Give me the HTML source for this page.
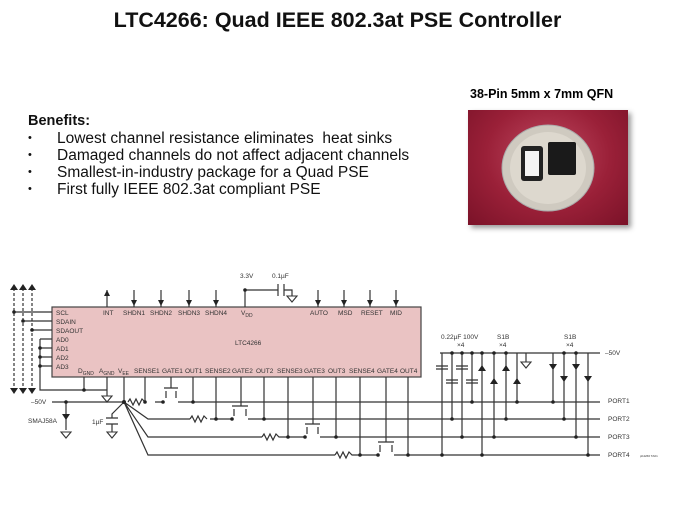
<!DOCTYPE html>
<html><head><meta charset="utf-8"><style>
body{margin:0;width:675px;height:506px;background:#fff;overflow:hidden;position:relative;font-family:"Liberation Sans",sans-serif}
.t{position:absolute;left:0;width:675px;top:8px;text-align:center;font-weight:bold;font-size:21.5px;color:#111}
.b{position:absolute;left:28px;top:112px;font-size:15.5px;line-height:17px;color:#111}
.b div{position:relative;padding-left:29px;white-space:nowrap}
.b div:before{content:"•";position:absolute;left:0;font-size:11px}
.cap{position:absolute;left:470px;top:87px;font-weight:bold;font-size:12.5px}
.ph{position:absolute;left:468px;top:110px;width:160px;height:115px;background:radial-gradient(ellipse at 50% 40%,#c04a62 0%,#9a2038 55%,#7a1228 100%);box-shadow:3px 3px 5px #999}
</style></head><body>
<div class="t">LTC4266: Quad IEEE 802.3at PSE Controller</div>
<div class="b"><b style="font-size:14.5px">Benefits:</b>
<div>Lowest channel resistance eliminates&nbsp; heat sinks</div>
<div>Damaged channels do not affect adjacent channels</div>
<div>Smallest-in-industry package for a Quad PSE</div>
<div>First fully IEEE 802.3at compliant PSE</div></div>
<div class="cap">38-Pin 5mm x 7mm QFN</div>
<div class="ph">
<svg width="160" height="115"><ellipse cx="80" cy="58" rx="46" ry="43" fill="#cfcac0" stroke="#aaa"/><ellipse cx="80" cy="58" rx="38" ry="36" fill="#ddd8ce"/>
<rect x="53" y="36" width="22" height="35" rx="3" fill="#222"/><rect x="57" y="41" width="14" height="25" fill="#f4f4f4"/>
<rect x="80" y="32" width="28" height="33" rx="2" fill="#1a1a1a"/></svg></div>
<svg style="position:absolute;left:0;top:0" width="675" height="506" font-family="Liberation Sans,sans-serif" font-size="6.5" fill="#333">
<g stroke="#333" stroke-width="1.2" fill="none">
<rect x="52" y="307" width="369" height="70" fill="#eac3c3" stroke="#444"/>
<path d="M14 288V390M23 288V390M32 288V390" stroke-dasharray="3,2"/>
<path d="M14 312H52M23 321H52M32 330H52M40 339H52M40 348H52M40 357H52M40 366H52M40 339V390H107"/>
<path d="M84 377V390M107 377V396"/>
<path d="M107 290V307M134 290V307M161 290V307M189 290V307M216 290V307M245 290V307M318 290V307M344 290V307M370 290V307M396 290V307"/>
<path d="M245 290H278M284 290H292V296"/>
<path d="M278 284V296M284 284V296"/>
<path d="M124 377V402M145 377V402M171 377V388M193 377V402M216 377V419M241 377V406M264 377V419M288 377V437M313 377V424M336 377V437M360 377V455M386 377V442M408 377V455"/>
<path d="M52 402H124M155 402H163M178 402H600"/>
<path d="M124 402L148 419H190M124 402L148 437H262M124 402L148 455H335"/>
<path d="M124 402L112 414V418"/>
<path d="M210 419H232M248 419H600M298 437H305M320 437H600M370 455H378M394 455H600"/>
<path d="M66 402V430M112 424V432"/>
<path d="M440 353H600"/>
<path d="M442 353V455M452 353V419M462 353V437M472 353V402"/>
<path d="M436 366H448M436 369H448M446 380H458M446 383H458M456 366H468M456 369H468M466 380H478M466 383H478"/>
<path d="M106 418H118M106 424H118"/>
<path d="M482 353V455M494 353V437M506 353V419M517 353V402"/>
<path d="M553 353V402M564 353V419M576 353V437M588 353V455"/>
<path d="M526 353V362"/>
<path d="M164 388H178M232 406H248M305 424H320M378 442H394M166 391V398M176 391V398M234 409V416M246 409V416M307 427V434M318 427V434M380 445V452M392 445V452"/>
<path d="M128 402l2-3 3 6 3-6 3 6 3-6 3 3M190 419l2-3 3 6 3-6 3 6 3-6 3 3M262 437l2-3 3 6 3-6 3 6 3-6 3 3H298M335 455l2-3 3 6 3-6 3 6 3-6 3 3H370"/>
</g>
<g fill="#222">
<path d="M10 290l4-6 4 6zM19 290l4-6 4 6zM28 290l4-6 4 6zM10 388l4 6 4-6zM19 388l4 6 4-6zM28 388l4 6 4-6z"/>
<path d="M104 296l3-6 3 6zM131 300l3 6 3-6zM158 300l3 6 3-6zM186 300l3 6 3-6zM213 300l3 6 3-6zM315 300l3 6 3-6zM341 300l3 6 3-6zM367 300l3 6 3-6zM393 300l3 6 3-6z"/>
<path d="M62 414h8l-4 6z"/>
<path d="M478 371h8l-4-6zM490 384h8l-4-6zM502 371h8l-4-6zM513 384h8l-4-6z"/>
<path d="M549 364h8l-4 6zM560 376h8l-4 6zM572 364h8l-4 6zM584 376h8l-4 6z"/>
<circle cx="14" cy="312" r="1.8"/><circle cx="23" cy="321" r="1.8"/><circle cx="32" cy="330" r="1.8"/><circle cx="40" cy="348" r="1.8"/><circle cx="40" cy="357" r="1.8"/><circle cx="40" cy="366" r="1.8"/><circle cx="84" cy="390" r="1.8"/><circle cx="245" cy="290" r="1.8"/><circle cx="66" cy="402" r="1.8"/><circle cx="124" cy="402" r="2"/><circle cx="145" cy="402" r="1.8"/><circle cx="163" cy="402" r="1.8"/><circle cx="193" cy="402" r="1.8"/><circle cx="216" cy="419" r="1.8"/><circle cx="232" cy="419" r="1.8"/><circle cx="264" cy="419" r="1.8"/><circle cx="288" cy="437" r="1.8"/><circle cx="305" cy="437" r="1.8"/><circle cx="336" cy="437" r="1.8"/><circle cx="360" cy="455" r="1.8"/><circle cx="378" cy="455" r="1.8"/><circle cx="408" cy="455" r="1.8"/>
<circle cx="442" cy="455" r="1.8"/><circle cx="452" cy="419" r="1.8"/><circle cx="462" cy="437" r="1.8"/><circle cx="472" cy="402" r="1.8"/><circle cx="482" cy="455" r="1.8"/><circle cx="494" cy="437" r="1.8"/><circle cx="506" cy="419" r="1.8"/><circle cx="517" cy="402" r="1.8"/><circle cx="553" cy="402" r="1.8"/><circle cx="564" cy="419" r="1.8"/><circle cx="576" cy="437" r="1.8"/><circle cx="588" cy="455" r="1.8"/>
<circle cx="452" cy="353" r="1.8"/><circle cx="462" cy="353" r="1.8"/><circle cx="472" cy="353" r="1.8"/><circle cx="482" cy="353" r="1.8"/><circle cx="494" cy="353" r="1.8"/><circle cx="506" cy="353" r="1.8"/><circle cx="564" cy="353" r="1.8"/><circle cx="576" cy="353" r="1.8"/>
</g>
<g stroke="#333" fill="#fff" stroke-width="1.1"><path d="M102 396h10l-5 6zM287 296h10l-5 6zM61 432h10l-5 6zM107 432h10l-5 6zM521 362h10l-5 6z"/></g>
<text x="56" y="315">SCL</text><text x="56" y="324">SDAIN</text><text x="56" y="333">SDAOUT</text><text x="56" y="342">AD0</text><text x="56" y="351">AD1</text><text x="56" y="360">AD2</text><text x="56" y="369">AD3</text>
<text x="103" y="315">INT</text><text x="123" y="315">SHDN1</text><text x="150" y="315">SHDN2</text><text x="178" y="315">SHDN3</text><text x="205" y="315">SHDN4</text><text x="241" y="315">V<tspan font-size="5" dy="2">DD</tspan></text>
<text x="310" y="315">AUTO</text><text x="338" y="315">MSD</text><text x="361" y="315">RESET</text><text x="390" y="315">MID</text>
<text x="235" y="345">LTC4266</text>
<text x="78" y="373">D<tspan font-size="5" dy="2">GND</tspan></text><text x="99" y="373">A<tspan font-size="5" dy="2">GND</tspan></text><text x="118" y="373">V<tspan font-size="5" dy="2">EE</tspan></text>
<text x="134" y="373">SENSE1</text><text x="162" y="373">GATE1</text><text x="185" y="373">OUT1</text><text x="205" y="373">SENSE2</text><text x="232" y="373">GATE2</text><text x="256" y="373">OUT2</text><text x="277" y="373">SENSE3</text><text x="304" y="373">GATE3</text><text x="328" y="373">OUT3</text><text x="349" y="373">SENSE4</text><text x="377" y="373">GATE4</text><text x="400" y="373">OUT4</text>
<text x="240" y="278">3.3V</text><text x="272" y="278">0.1µF</text>
<text x="31" y="404">–50V</text><text x="28" y="423">SMAJ58A</text><text x="92" y="424">1µF</text>
<text x="441" y="339">0.22µF 100V</text><text x="457" y="347">×4</text><text x="497" y="339">S1B</text><text x="499" y="347">×4</text><text x="564" y="339">S1B</text><text x="566" y="347">×4</text>
<text x="605" y="355">–50V</text><text x="608" y="403">PORT1</text><text x="608" y="421">PORT2</text><text x="608" y="439">PORT3</text><text x="608" y="457">PORT4</text>
<text x="640" y="457" font-size="3">pb4266 TA01</text>
</svg>
</body></html>
